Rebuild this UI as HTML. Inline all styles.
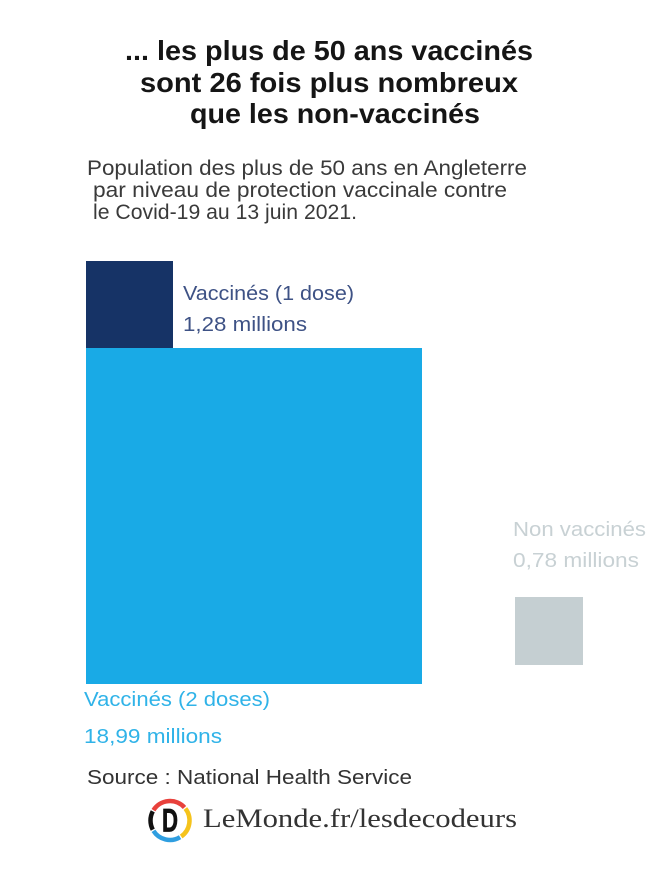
<!DOCTYPE html>
<html>
<head>
<meta charset="utf-8">
<style>
  html, body { margin:0; padding:0; background:#fff; }
  svg { display:block; }
  .t { font-family:"Liberation Sans", sans-serif; font-weight:bold; font-size:28px; fill:#151515; }
  .s { font-family:"Liberation Sans", sans-serif; font-size:21px; fill:#3a3a3a; }
  .l { font-family:"Liberation Sans", sans-serif; font-size:20px; }
</style>
</head>
<body>
<svg width="664" height="872" viewBox="0 0 664 872" xmlns="http://www.w3.org/2000/svg">
  <rect x="0" y="0" width="664" height="872" fill="#ffffff"/>

  <!-- Title -->
  <text class="t" x="125" y="60" textLength="408" lengthAdjust="spacingAndGlyphs">... les plus de 50 ans vaccinés</text>
  <text class="t" x="140" y="92" textLength="378" lengthAdjust="spacingAndGlyphs">sont 26 fois plus nombreux</text>
  <text class="t" x="190" y="123" textLength="290" lengthAdjust="spacingAndGlyphs">que les non-vaccinés</text>

  <!-- Subtitle -->
  <text class="s" x="87" y="175" textLength="440" lengthAdjust="spacingAndGlyphs">Population des plus de 50 ans en Angleterre</text>
  <text class="s" x="93" y="197" textLength="414" lengthAdjust="spacingAndGlyphs">par niveau de protection vaccinale contre</text>
  <text class="s" x="93" y="219" textLength="264" lengthAdjust="spacingAndGlyphs">le Covid-19 au 13 juin 2021.</text>

  <!-- Bars -->
  <rect x="86" y="261" width="87" height="88" fill="#163366"/>
  <rect x="86" y="348" width="336" height="336" fill="#19aae6"/>
  <rect x="515" y="597" width="68" height="68" fill="#c5cfd2"/>

  <!-- Labels -->
  <text class="l" x="183" y="300" fill="#3e5285" textLength="171" lengthAdjust="spacingAndGlyphs">Vaccinés (1 dose)</text>
  <text class="l" x="183" y="331" fill="#3e5285" textLength="124" lengthAdjust="spacingAndGlyphs">1,28 millions</text>

  <text class="l" x="513" y="536" fill="#c8d1d4" textLength="133" lengthAdjust="spacingAndGlyphs">Non vaccinés</text>
  <text class="l" x="513" y="567" fill="#c8d1d4" textLength="126" lengthAdjust="spacingAndGlyphs">0,78 millions</text>

  <text class="l" x="84" y="706" fill="#30b3e8" textLength="186" lengthAdjust="spacingAndGlyphs">Vaccinés (2 doses)</text>
  <text class="l" x="84" y="743" fill="#30b3e8" textLength="138" lengthAdjust="spacingAndGlyphs">18,99 millions</text>

  <!-- Source -->
  <text class="l" x="87" y="784" fill="#333333" textLength="325" lengthAdjust="spacingAndGlyphs">Source : National Health Service</text>

  <!-- Logo -->
  <g fill="none" stroke-width="4.5">
    <path d="M153.46 810.17 A19.5 19.5 0 0 1 184.49 807.45" stroke="#e8413c"/>
    <path d="M185.37 808.49 A19.5 19.5 0 0 1 181.19 836.47" stroke="#f5c31c"/>
    <path d="M180.04 837.21 A19.5 19.5 0 0 1 153.46 830.83" stroke="#2f9ee0"/>
    <path d="M152.78 829.65 A19.5 19.5 0 0 1 152.78 811.35" stroke="#111111"/>
  </g>
  <text x="162" y="831.5" font-family="Liberation Sans, sans-serif" font-weight="bold" font-size="32" fill="#111" stroke="#111" stroke-width="0.8" textLength="16" lengthAdjust="spacingAndGlyphs">D</text>
  <text x="203" y="827" font-family="Liberation Serif, serif" font-size="26" fill="#333" textLength="314" lengthAdjust="spacingAndGlyphs">LeMonde.fr/lesdecodeurs</text>
</svg>
</body>
</html>
